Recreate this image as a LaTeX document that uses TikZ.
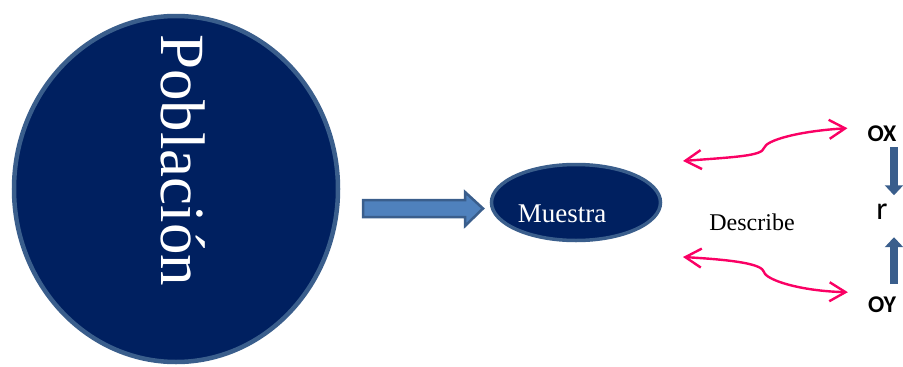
\documentclass[tikz,border=0pt]{standalone}
\usepackage{fontspec}
\setmainfont{Liberation Serif}
\newfontfamily\calfont{Carlito}
\usetikzlibrary{shapes.geometric,arrows.meta,calc}
\definecolor{navy}{RGB}{0,32,96}
\definecolor{rim}{RGB}{58,94,140}
\definecolor{shaft}{RGB}{79,129,189}
\definecolor{pink}{RGB}{250,0,100}
\tikzset{
  blob/.style={ellipse, fill=navy, draw=rim, inner sep=0pt},
  pinkarrow/.style={draw=pink, line width=2.4pt, {Straight Barb[length=16pt,width=19pt]}-{Straight Barb[length=16pt,width=19pt]}},
  bluearrow/.style={draw=rim, line width=8pt, -{Triangle[length=10pt,width=18pt]}},
  axis/.style={font=\calfont\bfseries\fontsize{24}{24}\selectfont, inner sep=0pt, anchor=base},
}
\begin{document}
\begin{tikzpicture}[x=1pt,y=-1pt]
\useasboundingbox (0,0) rectangle (903,367);
% Poblacion
\node[blob, line width=4.5pt, minimum width=324pt, minimum height=346pt] (pop) at (176,189) {};
\node[rotate=-90, anchor=base, inner sep=0pt, text=white, font=\fontsize{63}{63}\selectfont] (poptext) at (161,160) {Población};
% Muestra
\node[blob, line width=3.5pt, minimum width=169pt, minimum height=76pt] (mue) at (576,202.5) {};
\node[anchor=base, inner sep=0pt, text=white, font=\fontsize{27}{27}\selectfont] (muetext) at (562,222) {Muestra};
% block arrow
\coordinate (ba) at (363,208);
\draw[draw=rim, fill=shaft, line width=2.5pt, line join=miter]
  ($(ba)+(0,-8)$) -- ++(102,0) -- ++(0,-8) -- ++(18,16.5) -- ++(-18,17.5) -- ++(0,-9) -- ++(-102,0) -- cycle;
% Describe
\node[anchor=base, inner sep=0pt, font=\fontsize{24}{24}\selectfont] (desc) at (752,230) {Describe};
% OX, r, OY
\node[axis] (ox) at (882,141) {OX};
\node[axis] (oy) at (882,312) {OY};
\node[anchor=base, inner sep=0pt, font=\calfont\fontsize{32}{32}\selectfont] (r) at (882,219) {r};
% blue arrows
\coordinate (d1) at ($(ox.south)+(12,6)$);
\coordinate (d2) at ($(r.north)+(12,-8)$);
\coordinate (u1) at ($(oy.north)+(12,-12)$);
\coordinate (u2) at ($(r.south)+(12,18)$);
\draw[bluearrow] (d1) -- (d2);
\draw[bluearrow] (u1) -- (u2);
% pink arrows
\coordinate (pl1) at (683,161);
\coordinate (pk1) at (764,148);
\coordinate (pr1) at ($(ox.west)+(-20,-5)$);
\coordinate (pl2) at (683,257);
\coordinate (pk2) at (764,272);
\coordinate (pr2) at ($(oy.west)+(-20,-12)$);
\draw[pinkarrow] (pl1) .. controls (735,157) and (762,156) .. (pk1) .. controls (766,140) and (800,131) .. (pr1);
\draw[pinkarrow] (pl2) .. controls (735,260) and (762,264) .. (pk2) .. controls (766,280) and (800,291) .. (pr2);
\end{tikzpicture}
\end{document}
